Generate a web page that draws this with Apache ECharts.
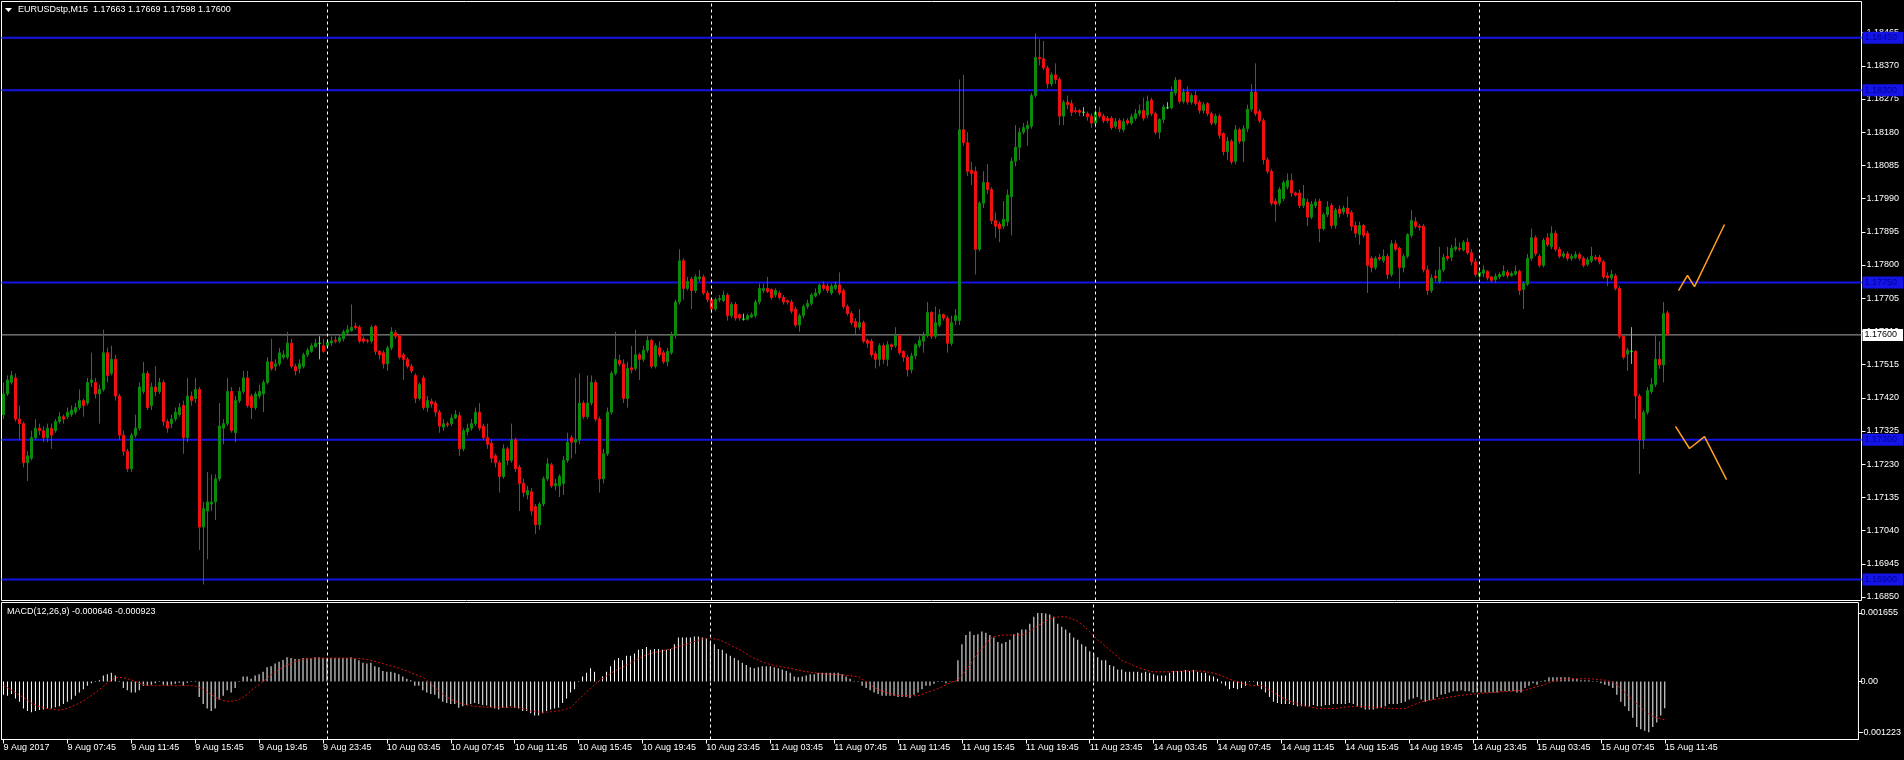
<!DOCTYPE html>
<html>
<head>
<meta charset="utf-8">
<script src="https://cdn.jsdelivr.net/npm/echarts@6/dist/echarts.min.js"></script>
<style>
html,body{margin:0;padding:0;background:#000;}
#c{width:1904px;height:760px;}
</style>
</head>
<body>
<div id="c"></div>
<script>
// ---------------- DATA ----------------
const symbolTitle = 'EURUSDstp,M15  1.17663 1.17669 1.17598 1.17600';
const macdTitle = 'MACD(12,26,9) -0.000646 -0.000923';
const firstTickLabel = '9 Aug 2017';
const sessionDays = ['9 Aug', '10 Aug', '11 Aug', '14 Aug', '15 Aug'];
const sessionFirstQuarter = [15, 0, 0, 0, 0];
const sessionLastQuarter = [95, 95, 95, 95, 47];
const futureSlots = 48;

const openP = [
1.17372,1.17431,1.17464,1.17477,1.17359,1.17346,1.17234,1.17247,1.17306,1.17333,
1.17326,1.17306,1.17333,1.17326,1.17352,1.17366,1.17366,1.17372,1.17379,1.17392,
1.17412,1.17405,1.17464,1.17464,1.17431,1.17444,1.17549,1.17490,1.17530,1.17425,
1.17313,1.17267,1.17217,1.17313,1.17333,1.17438,1.17490,1.17398,1.17451,1.17438,
1.17464,1.17352,1.17346,1.17359,1.17372,1.17398,1.17306,1.17425,1.17418,1.17444,
1.17050,1.17096,1.17116,1.17122,1.17188,1.17333,1.17346,1.17438,1.17320,1.17412,
1.17438,1.17477,1.17425,1.17392,1.17425,1.17431,1.17464,1.17523,1.17510,1.17517,
1.17536,1.17536,1.17576,1.17510,1.17504,1.17510,1.17543,1.17553,1.17566,1.17576,
1.17569,1.17569,1.17577,1.17585,1.17582,1.17589,1.17606,1.17612,1.17625,1.17622,
1.17589,1.17584,1.17582,1.17625,1.17553,1.17549,1.17517,1.17563,1.17606,1.17598,
1.17543,1.17530,1.17510,1.17484,1.17418,1.17477,1.17392,1.17410,1.17405,1.17379,
1.17336,1.17346,1.17346,1.17362,1.17369,1.17274,1.17323,1.17333,1.17346,1.17379,
1.17339,1.17306,1.17290,1.17254,1.17234,1.17195,1.17274,1.17241,1.17300,1.17221,
1.17175,1.17142,1.17151,1.17109,1.17057,1.17116,1.17188,1.17228,1.17168,1.17168,
1.17175,1.17241,1.17306,1.17293,1.17300,1.17405,1.17366,1.17405,1.17464,1.17359,
1.17188,1.17260,1.17379,1.17490,1.17527,1.17517,1.17418,1.17506,1.17504,1.17543,
1.17530,1.17556,1.17584,1.17510,1.17563,1.17549,1.17523,1.17549,1.17599,1.17694,
1.17812,1.17733,1.17760,1.17727,1.17760,1.17766,1.17720,1.17701,1.17674,1.17701,
1.17698,1.17714,1.17655,1.17687,1.17658,1.17645,1.17645,1.17651,1.17655,1.17694,
1.17727,1.17733,1.17730,1.17714,1.17720,1.17707,1.17698,1.17694,1.17674,1.17628,
1.17655,1.17681,1.17690,1.17711,1.17720,1.17743,1.17740,1.17720,1.17733,1.17743,
1.17727,1.17681,1.17661,1.17638,1.17622,1.17635,1.17584,1.17582,1.17546,1.17530,
1.17569,1.17530,1.17572,1.17569,1.17598,1.17553,1.17536,1.17500,1.17540,1.17569,
1.17582,1.17598,1.17664,1.17596,1.17628,1.17658,1.17648,1.17576,1.17641,1.17641,
1.18187,1.18150,1.18071,1.18068,1.17845,1.17977,1.18036,1.18016,1.17927,1.17917,
1.17911,1.17924,1.17996,1.18097,1.18137,1.18180,1.18190,1.18197,1.18285,1.18394,
1.18390,1.18364,1.18318,1.18344,1.18331,1.18226,1.18266,1.18262,1.18242,1.18242,
1.18237,1.18233,1.18226,1.18206,1.18237,1.18226,1.18220,1.18220,1.18197,1.18213,
1.18187,1.18213,1.18206,1.18220,1.18233,1.18242,1.18229,1.18272,1.18233,1.18180,
1.18216,1.18250,1.18250,1.18292,1.18329,1.18268,1.18295,1.18266,1.18285,1.18266,
1.18242,1.18262,1.18233,1.18206,1.18226,1.18176,1.18124,1.18154,1.18097,1.18187,
1.18154,1.18190,1.18246,1.18295,1.18239,1.18213,1.18101,1.18068,1.17983,1.17977,
1.17990,1.18023,1.18042,1.18006,1.18006,1.17970,1.17980,1.17937,1.17970,1.17983,
1.17904,1.17944,1.17970,1.17913,1.17960,1.17952,1.17963,1.17950,1.17913,1.17887,
1.17913,1.17891,1.17819,1.17793,1.17822,1.17812,1.17825,1.17773,1.17861,1.17848,
1.17793,1.17825,1.17885,1.17924,1.17911,1.17911,1.17786,1.17727,1.17768,1.17753,
1.17786,1.17825,1.17822,1.17845,1.17848,1.17843,1.17865,1.17835,1.17809,1.17768,
1.17776,1.17782,1.17766,1.17758,1.17766,1.17770,1.17779,1.17770,1.17774,1.17782,
1.17730,1.17745,1.17819,1.17878,1.17825,1.17799,1.17878,1.17852,1.17891,1.17845,
1.17825,1.17832,1.17819,1.17822,1.17830,1.17819,1.17802,1.17812,1.17822,1.17822,
1.17809,1.17769,1.17763,1.17769,1.17733,1.17596,1.17545,1.17553,1.17553,1.17425,
1.17300,1.17379,1.17438,1.17458,1.17530,1.17514,1.17663
];

const highP = [
1.17464,1.17484,1.17497,1.17490,1.17398,1.17352,1.17267,1.17326,1.17359,1.17346,
1.17339,1.17346,1.17346,1.17359,1.17379,1.17372,1.17392,1.17398,1.17405,1.17444,
1.17418,1.17477,1.17549,1.17477,1.17458,1.17615,1.17563,1.17569,1.17543,1.17431,
1.17326,1.17274,1.17320,1.17372,1.17464,1.17523,1.17497,1.17464,1.17510,1.17477,
1.17471,1.17359,1.17372,1.17392,1.17405,1.17412,1.17477,1.17438,1.17477,1.17451,
1.17122,1.17208,1.17201,1.17201,1.17405,1.17359,1.17477,1.17451,1.17425,1.17451,
1.17497,1.17497,1.17431,1.17438,1.17458,1.17471,1.17536,1.17589,1.17530,1.17563,
1.17556,1.17609,1.17589,1.17517,1.17530,1.17549,1.17563,1.17576,1.17589,1.17596,
1.17589,1.17589,1.17596,1.17596,1.17602,1.17615,1.17628,1.17687,1.17635,1.17628,
1.17596,1.17589,1.17628,1.17628,1.17556,1.17556,1.17569,1.17622,1.17615,1.17602,
1.17549,1.17536,1.17517,1.17490,1.17464,1.17484,1.17425,1.17418,1.17412,1.17385,
1.17359,1.17352,1.17372,1.17385,1.17379,1.17333,1.17346,1.17359,1.17392,1.17405,
1.17346,1.17346,1.17300,1.17260,1.17241,1.17287,1.17280,1.17346,1.17306,1.17228,
1.17188,1.17168,1.17162,1.17116,1.17122,1.17195,1.17247,1.17234,1.17188,1.17201,
1.17254,1.17320,1.17313,1.17477,1.17490,1.17412,1.17484,1.17484,1.17471,1.17366,
1.17274,1.17392,1.17497,1.17609,1.17543,1.17530,1.17523,1.17569,1.17615,1.17549,
1.17569,1.17596,1.17589,1.17576,1.17582,1.17556,1.17563,1.17609,1.17701,1.17845,
1.17819,1.17766,1.17766,1.17773,1.17786,1.17773,1.17727,1.17707,1.17707,1.17714,
1.17727,1.17720,1.17694,1.17694,1.17661,1.17661,1.17661,1.17664,1.17701,1.17747,
1.17747,1.17766,1.17733,1.17733,1.17727,1.17714,1.17701,1.17701,1.17681,1.17661,
1.17687,1.17701,1.17720,1.17733,1.17747,1.17753,1.17747,1.17747,1.17753,1.17779,
1.17733,1.17687,1.17668,1.17648,1.17674,1.17641,1.17589,1.17589,1.17553,1.17576,
1.17576,1.17582,1.17576,1.17622,1.17602,1.17556,1.17543,1.17549,1.17576,1.17596,
1.17609,1.17694,1.17668,1.17681,1.17674,1.17661,1.17655,1.17655,1.17674,1.18331,
1.18344,1.18180,1.18095,1.18082,1.17983,1.18068,1.18089,1.18023,1.17950,1.17924,
1.17983,1.18016,1.18108,1.18200,1.18193,1.18206,1.18213,1.18292,1.18463,1.18446,
1.18441,1.18371,1.18351,1.18377,1.18338,1.18272,1.18285,1.18272,1.18252,1.18246,
1.18252,1.18239,1.18233,1.18246,1.18252,1.18233,1.18226,1.18226,1.18220,1.18220,
1.18220,1.18220,1.18233,1.18246,1.18259,1.18279,1.18285,1.18279,1.18239,1.18220,
1.18259,1.18266,1.18311,1.18338,1.18331,1.18305,1.18311,1.18292,1.18298,1.18272,
1.18266,1.18266,1.18239,1.18233,1.18233,1.18180,1.18167,1.18160,1.18200,1.18193,
1.18200,1.18259,1.18318,1.18377,1.18246,1.18220,1.18108,1.18075,1.17990,1.18023,
1.18042,1.18062,1.18062,1.18010,1.18016,1.18029,1.17990,1.17983,1.17990,1.17990,
1.17950,1.17983,1.17977,1.17963,1.17970,1.17970,1.17996,1.17957,1.17924,1.17924,
1.17917,1.17898,1.17825,1.17825,1.17832,1.17845,1.17832,1.17871,1.17871,1.17852,
1.17832,1.17891,1.17957,1.17937,1.17917,1.17917,1.17799,1.17773,1.17786,1.17852,
1.17832,1.17852,1.17858,1.17878,1.17865,1.17871,1.17878,1.17845,1.17819,1.17786,
1.17799,1.17786,1.17769,1.17776,1.17779,1.17799,1.17786,1.17782,1.17799,1.17786,
1.17753,1.17832,1.17904,1.17885,1.17832,1.17877,1.17891,1.17911,1.17898,1.17852,
1.17839,1.17839,1.17832,1.17839,1.17836,1.17825,1.17822,1.17852,1.17829,1.17829,
1.17815,1.17779,1.17786,1.17776,1.17740,1.17602,1.17563,1.17622,1.17556,1.17431,
1.17385,1.17451,1.17477,1.17602,1.17582,1.17694,1.17669
];

const lowP = [
1.17359,1.17425,1.17458,1.17352,1.17300,1.17221,1.17182,1.17241,1.17300,1.17313,
1.17293,1.17293,1.17274,1.17320,1.17346,1.17346,1.17359,1.17366,1.17372,1.17385,
1.17366,1.17398,1.17451,1.17418,1.17346,1.17438,1.17464,1.17484,1.17412,1.17300,
1.17254,1.17208,1.17208,1.17306,1.17326,1.17431,1.17385,1.17385,1.17425,1.17431,
1.17339,1.17320,1.17333,1.17352,1.17366,1.17260,1.17293,1.17398,1.17405,1.16984,
1.16886,1.16958,1.17096,1.17070,1.17182,1.17287,1.17339,1.17320,1.17293,1.17405,
1.17431,1.17392,1.17359,1.17385,1.17418,1.17379,1.17458,1.17497,1.17497,1.17510,
1.17530,1.17530,1.17504,1.17484,1.17490,1.17504,1.17536,1.17549,1.17563,1.17530,
1.17549,1.17563,1.17569,1.17576,1.17576,1.17582,1.17602,1.17609,1.17615,1.17576,
1.17576,1.17576,1.17576,1.17543,1.17530,1.17504,1.17497,1.17556,1.17589,1.17530,
1.17471,1.17504,1.17490,1.17405,1.17412,1.17385,1.17379,1.17392,1.17366,1.17320,
1.17326,1.17336,1.17339,1.17359,1.17254,1.17267,1.17313,1.17326,1.17339,1.17326,
1.17300,1.17274,1.17234,1.17221,1.17149,1.17188,1.17228,1.17234,1.17208,1.17096,
1.17136,1.17129,1.17083,1.17030,1.17043,1.17109,1.17182,1.17162,1.17155,1.17136,
1.17142,1.17234,1.17247,1.17260,1.17287,1.17359,1.17359,1.17398,1.17352,1.17149,
1.17175,1.17254,1.17372,1.17484,1.17510,1.17405,1.17392,1.17490,1.17497,1.17471,
1.17523,1.17549,1.17504,1.17504,1.17536,1.17517,1.17510,1.17543,1.17589,1.17687,
1.17701,1.17727,1.17674,1.17720,1.17753,1.17714,1.17694,1.17661,1.17668,1.17694,
1.17694,1.17641,1.17648,1.17641,1.17641,1.17641,1.17641,1.17648,1.17648,1.17687,
1.17720,1.17720,1.17701,1.17707,1.17701,1.17687,1.17687,1.17661,1.17622,1.17609,
1.17648,1.17674,1.17684,1.17707,1.17714,1.17727,1.17720,1.17714,1.17727,1.17714,
1.17674,1.17655,1.17628,1.17602,1.17615,1.17576,1.17563,1.17536,1.17504,1.17510,
1.17517,1.17510,1.17556,1.17563,1.17543,1.17523,1.17481,1.17490,1.17530,1.17563,
1.17549,1.17592,1.17589,1.17589,1.17622,1.17641,1.17549,1.17569,1.17628,1.17628,
1.18141,1.18055,1.18029,1.17773,1.17839,1.17963,1.18003,1.17917,1.17878,1.17865,
1.17904,1.17911,1.17885,1.18082,1.18101,1.18174,1.18141,1.18190,1.18279,1.18371,
1.18358,1.18305,1.18311,1.18318,1.18200,1.18200,1.18246,1.18226,1.18233,1.18226,
1.18226,1.18213,1.18193,1.18193,1.18220,1.18206,1.18206,1.18187,1.18190,1.18180,
1.18180,1.18200,1.18200,1.18213,1.18226,1.18213,1.18220,1.18226,1.18174,1.18161,
1.18206,1.18246,1.18246,1.18285,1.18262,1.18262,1.18259,1.18259,1.18256,1.18233,
1.18233,1.18226,1.18200,1.18200,1.18161,1.18114,1.18101,1.18088,1.18088,1.18147,
1.18095,1.18180,1.18239,1.18226,1.18206,1.18088,1.18062,1.17970,1.17924,1.17970,
1.17983,1.18016,1.17996,1.17996,1.17963,1.17963,1.17911,1.17931,1.17963,1.17865,
1.17898,1.17937,1.17904,1.17904,1.17937,1.17944,1.17937,1.17898,1.17878,1.17858,
1.17878,1.17720,1.17779,1.17786,1.17812,1.17806,1.17760,1.17766,1.17839,1.17733,
1.17779,1.17819,1.17878,1.17904,1.17898,1.17779,1.17714,1.17720,1.17753,1.17747,
1.17779,1.17812,1.17812,1.17839,1.17839,1.17839,1.17829,1.17799,1.17766,1.17760,
1.17766,1.17756,1.17750,1.17750,1.17760,1.17766,1.17763,1.17766,1.17770,1.17714,
1.17674,1.17740,1.17812,1.17825,1.17793,1.17793,1.17852,1.17845,1.17839,1.17819,
1.17819,1.17812,1.17812,1.17817,1.17812,1.17793,1.17796,1.17806,1.17812,1.17802,
1.17760,1.17740,1.17756,1.17727,1.17589,1.17530,1.17497,1.17517,1.17359,1.17202,
1.17274,1.17372,1.17431,1.17451,1.17503,1.17464,1.17598
];

const closeP = [
1.17431,1.17471,1.17484,1.17359,1.17346,1.17234,1.17254,1.17306,1.17333,1.17326,
1.17306,1.17333,1.17313,1.17352,1.17366,1.17359,1.17379,1.17385,1.17392,1.17412,
1.17398,1.17464,1.17471,1.17431,1.17444,1.17549,1.17484,1.17530,1.17425,1.17313,
1.17267,1.17217,1.17313,1.17333,1.17451,1.17490,1.17392,1.17451,1.17438,1.17464,
1.17352,1.17333,1.17359,1.17379,1.17392,1.17306,1.17425,1.17412,1.17444,1.17050,
1.17103,1.17122,1.17122,1.17188,1.17339,1.17346,1.17438,1.17326,1.17412,1.17438,
1.17477,1.17398,1.17392,1.17431,1.17438,1.17464,1.17523,1.17504,1.17517,1.17549,
1.17543,1.17576,1.17510,1.17497,1.17517,1.17543,1.17556,1.17569,1.17576,1.17576,
1.17553,1.17579,1.17583,1.17582,1.17592,1.17609,1.17615,1.17622,1.17620,1.17582,
1.17582,1.17582,1.17622,1.17553,1.17543,1.17517,1.17563,1.17609,1.17596,1.17536,
1.17530,1.17510,1.17497,1.17418,1.17458,1.17392,1.17412,1.17402,1.17379,1.17339,
1.17346,1.17343,1.17362,1.17372,1.17274,1.17326,1.17333,1.17346,1.17379,1.17333,
1.17306,1.17287,1.17247,1.17234,1.17195,1.17274,1.17241,1.17300,1.17217,1.17175,
1.17149,1.17155,1.17096,1.17057,1.17116,1.17188,1.17231,1.17168,1.17175,1.17195,
1.17241,1.17293,1.17293,1.17300,1.17405,1.17366,1.17405,1.17464,1.17359,1.17188,
1.17260,1.17379,1.17490,1.17530,1.17517,1.17418,1.17504,1.17500,1.17543,1.17530,
1.17556,1.17584,1.17510,1.17569,1.17543,1.17523,1.17553,1.17599,1.17694,1.17812,
1.17733,1.17753,1.17727,1.17766,1.17766,1.17720,1.17701,1.17674,1.17701,1.17704,
1.17714,1.17655,1.17687,1.17648,1.17648,1.17645,1.17655,1.17658,1.17694,1.17733,
1.17733,1.17724,1.17707,1.17727,1.17707,1.17694,1.17694,1.17668,1.17628,1.17655,
1.17681,1.17690,1.17714,1.17720,1.17743,1.17733,1.17727,1.17740,1.17743,1.17720,
1.17681,1.17661,1.17635,1.17622,1.17635,1.17582,1.17576,1.17543,1.17530,1.17569,
1.17530,1.17572,1.17566,1.17598,1.17549,1.17536,1.17500,1.17540,1.17572,1.17585,
1.17598,1.17664,1.17596,1.17635,1.17658,1.17648,1.17576,1.17635,1.17655,1.18187,
1.18150,1.18068,1.18062,1.17845,1.17977,1.18036,1.18016,1.17927,1.17911,1.17904,
1.17931,1.18000,1.18097,1.18137,1.18180,1.18193,1.18200,1.18285,1.18394,1.18390,
1.18364,1.18318,1.18344,1.18331,1.18226,1.18266,1.18259,1.18237,1.18239,1.18237,
1.18237,1.18224,1.18206,1.18237,1.18226,1.18213,1.18213,1.18193,1.18210,1.18190,
1.18210,1.18206,1.18224,1.18233,1.18242,1.18220,1.18268,1.18233,1.18180,1.18216,
1.18252,1.18250,1.18295,1.18329,1.18268,1.18295,1.18266,1.18285,1.18262,1.18242,
1.18259,1.18233,1.18206,1.18226,1.18171,1.18124,1.18154,1.18095,1.18187,1.18154,
1.18190,1.18246,1.18295,1.18233,1.18213,1.18101,1.18068,1.17977,1.17974,1.18016,
1.18036,1.18042,1.18006,1.18000,1.17970,1.17990,1.17937,1.17974,1.17980,1.17904,
1.17944,1.17966,1.17913,1.17957,1.17947,1.17963,1.17947,1.17911,1.17891,1.17913,
1.17885,1.17799,1.17793,1.17819,1.17817,1.17825,1.17773,1.17861,1.17845,1.17793,
1.17825,1.17887,1.17927,1.17911,1.17908,1.17786,1.17727,1.17763,1.17763,1.17786,
1.17822,1.17819,1.17848,1.17852,1.17845,1.17865,1.17835,1.17809,1.17773,1.17779,
1.17786,1.17763,1.17756,1.17768,1.17773,1.17782,1.17770,1.17776,1.17782,1.17727,
1.17747,1.17819,1.17878,1.17832,1.17799,1.17871,1.17858,1.17891,1.17845,1.17825,
1.17832,1.17819,1.17825,1.17830,1.17819,1.17799,1.17815,1.17825,1.17817,1.17809,
1.17766,1.17763,1.17773,1.17733,1.17596,1.17536,1.17556,1.17553,1.17425,1.17300,
1.17379,1.17441,1.17458,1.17530,1.17514,1.17661,1.17600
];

const macdMain = [
-322e-6,-344e-6,-299e-6,-410e-6,-488e-6,-654e-6,-710e-6,-743e-6,-710e-6,-688e-6,
-676e-6,-654e-6,-654e-6,-621e-6,-599e-6,-543e-6,-488e-6,-433e-6,-344e-6,-266e-6,
-189e-6,-100e-6,-44e-6,-11e-6,33e-6,144e-6,177e-6,211e-6,144e-6,-11e-6,
-155e-6,-211e-6,-266e-6,-266e-6,-211e-6,-100e-6,-100e-6,-78e-6,-44e-6,11e-6,
-78e-6,-100e-6,-78e-6,-55e-6,-33e-6,-100e-6,-33e-6,-11e-6,11e-6,-377e-6,
-543e-6,-654e-6,-710e-6,-654e-6,-433e-6,-344e-6,-211e-6,-266e-6,-155e-6,-11e-6,
122e-6,122e-6,67e-6,144e-6,177e-6,233e-6,344e-6,366e-6,433e-6,477e-6,
521e-6,588e-6,566e-6,543e-6,543e-6,566e-6,566e-6,566e-6,588e-6,588e-6,
566e-6,566e-6,566e-6,566e-6,566e-6,566e-6,566e-6,588e-6,543e-6,510e-6,
455e-6,433e-6,455e-6,366e-6,344e-6,255e-6,233e-6,233e-6,211e-6,177e-6,
122e-6,67e-6,33e-6,-100e-6,-100e-6,-211e-6,-266e-6,-299e-6,-322e-6,-410e-6,
-488e-6,-521e-6,-543e-6,-543e-6,-632e-6,-599e-6,-566e-6,-543e-6,-521e-6,-543e-6,
-566e-6,-577e-6,-621e-6,-654e-6,-676e-6,-632e-6,-632e-6,-599e-6,-632e-6,-654e-6,
-710e-6,-710e-6,-765e-6,-821e-6,-821e-6,-765e-6,-710e-6,-676e-6,-654e-6,-632e-6,
-521e-6,-410e-6,-266e-6,-189e-6,11e-6,122e-6,211e-6,322e-6,233e-6,11e-6,
122e-6,233e-6,366e-6,510e-6,566e-6,510e-6,621e-6,621e-6,676e-6,765e-6,
787e-6,832e-6,765e-6,787e-6,787e-6,765e-6,765e-6,787e-6,898e-6,1065e-6,
1065e-6,1065e-6,1065e-6,1087e-6,1087e-6,1065e-6,1031e-6,954e-6,898e-6,787e-6,
765e-6,676e-6,621e-6,566e-6,510e-6,455e-6,399e-6,344e-6,322e-6,344e-6,
366e-6,366e-6,366e-6,344e-6,322e-6,288e-6,255e-6,211e-6,122e-6,100e-6,
122e-6,144e-6,177e-6,177e-6,211e-6,211e-6,211e-6,211e-6,211e-6,211e-6,
177e-6,122e-6,67e-6,11e-6,-11e-6,-100e-6,-155e-6,-211e-6,-266e-6,-299e-6,
-344e-6,-344e-6,-344e-6,-344e-6,-377e-6,-377e-6,-377e-6,-399e-6,-322e-6,-266e-6,
-189e-6,-100e-6,-100e-6,-55e-6,-11e-6,-11e-6,-44e-6,-11e-6,-11e-6,510e-6,
898e-6,1120e-6,1209e-6,1120e-6,1142e-6,1209e-6,1176e-6,1120e-6,1065e-6,954e-6,
920e-6,954e-6,1009e-6,1142e-6,1176e-6,1253e-6,1253e-6,1397e-6,1564e-6,1652e-6,
1655e-6,1641e-6,1619e-6,1564e-6,1397e-6,1320e-6,1253e-6,1176e-6,1065e-6,1009e-6,
898e-6,843e-6,732e-6,676e-6,588e-6,510e-6,510e-6,399e-6,366e-6,288e-6,
288e-6,233e-6,233e-6,233e-6,233e-6,211e-6,233e-6,211e-6,177e-6,144e-6,
144e-6,144e-6,211e-6,255e-6,255e-6,255e-6,277e-6,255e-6,277e-6,233e-6,
211e-6,211e-6,144e-6,122e-6,67e-6,-44e-6,-100e-6,-189e-6,-155e-6,-189e-6,
-155e-6,-100e-6,-11e-6,-11e-6,-100e-6,-189e-6,-266e-6,-377e-6,-488e-6,-521e-6,
-543e-6,-543e-6,-543e-6,-566e-6,-599e-6,-599e-6,-599e-6,-599e-6,-566e-6,-599e-6,
-599e-6,-566e-6,-566e-6,-543e-6,-543e-6,-543e-6,-543e-6,-521e-6,-543e-6,-599e-6,
-632e-6,-676e-6,-676e-6,-676e-6,-654e-6,-632e-6,-599e-6,-543e-6,-543e-6,-543e-6,
-521e-6,-488e-6,-433e-6,-410e-6,-377e-6,-433e-6,-488e-6,-455e-6,-433e-6,-377e-6,
-322e-6,-299e-6,-266e-6,-233e-6,-233e-6,-211e-6,-233e-6,-233e-6,-266e-6,-266e-6,
-266e-6,-266e-6,-266e-6,-266e-6,-266e-6,-233e-6,-233e-6,-233e-6,-233e-6,-266e-6,
-266e-6,-155e-6,-100e-6,-44e-6,-78e-6,-11e-6,33e-6,100e-6,100e-6,100e-6,
100e-6,100e-6,100e-6,67e-6,67e-6,33e-6,33e-6,33e-6,11e-6,11e-6,
-44e-6,-78e-6,-100e-6,-155e-6,-322e-6,-488e-6,-599e-6,-710e-6,-876e-6,-1098e-6,
-1153e-6,-1187e-6,-1223e-6,-1098e-6,-987e-6,-821e-6,-646e-6
];

const macdSignal = [
-100e-6,-150e-6,-210e-6,-266e-6,-330e-6,-390e-6,-450e-6,-520e-6,-570e-6,-605e-6,
-630e-6,-650e-6,-665e-6,-680e-6,-688e-6,-675e-6,-645e-6,-605e-6,-565e-6,-520e-6,
-465e-6,-400e-6,-340e-6,-270e-6,-190e-6,-120e-6,-40e-6,30e-6,90e-6,100e-6,
90e-6,67e-6,40e-6,5e-6,-44e-6,-70e-6,-95e-6,-100e-6,-100e-6,-100e-6,
-100e-6,-100e-6,-100e-6,-100e-6,-100e-6,-100e-6,-100e-6,-100e-6,-110e-6,-140e-6,
-189e-6,-250e-6,-315e-6,-377e-6,-420e-6,-455e-6,-480e-6,-480e-6,-460e-6,-433e-6,
-380e-6,-310e-6,-220e-6,-140e-6,-78e-6,0,80e-6,160e-6,230e-6,290e-6,
350e-6,399e-6,440e-6,480e-6,510e-6,530e-6,545e-6,555e-6,566e-6,566e-6,
566e-6,566e-6,566e-6,566e-6,566e-6,566e-6,566e-6,566e-6,560e-6,555e-6,
545e-6,532e-6,510e-6,485e-6,460e-6,433e-6,405e-6,375e-6,350e-6,322e-6,
285e-6,250e-6,215e-6,177e-6,140e-6,100e-6,30e-6,-40e-6,-155e-6,-230e-6,
-300e-6,-377e-6,-420e-6,-470e-6,-510e-6,-540e-6,-565e-6,-585e-6,-599e-6,-605e-6,
-612e-6,-621e-6,-621e-6,-621e-6,-621e-6,-621e-6,-621e-6,-621e-6,-621e-6,-621e-6,
-650e-6,-680e-6,-710e-6,-725e-6,-735e-6,-743e-6,-740e-6,-730e-6,-720e-6,-710e-6,
-690e-6,-665e-6,-632e-6,-540e-6,-433e-6,-350e-6,-250e-6,-170e-6,-80e-6,11e-6,
70e-6,130e-6,190e-6,250e-6,300e-6,350e-6,399e-6,450e-6,500e-6,560e-6,
600e-6,640e-6,680e-6,699e-6,720e-6,745e-6,765e-6,790e-6,815e-6,843e-6,
875e-6,905e-6,935e-6,965e-6,995e-6,1020e-6,1040e-6,1042e-6,1030e-6,1010e-6,
975e-6,930e-6,880e-6,830e-6,787e-6,730e-6,670e-6,610e-6,560e-6,520e-6,
470e-6,440e-6,410e-6,385e-6,365e-6,350e-6,335e-6,315e-6,295e-6,275e-6,
255e-6,240e-6,225e-6,210e-6,200e-6,190e-6,180e-6,175e-6,170e-6,165e-6,
160e-6,150e-6,140e-6,130e-6,120e-6,60e-6,0,-80e-6,-140e-6,-190e-6,
-230e-6,-266e-6,-295e-6,-320e-6,-335e-6,-344e-6,-344e-6,-344e-6,-344e-6,-344e-6,
-310e-6,-270e-6,-240e-6,-211e-6,-170e-6,-130e-6,-78e-6,-30e-6,0,33e-6,
150e-6,270e-6,400e-6,540e-6,680e-6,787e-6,900e-6,1030e-6,1080e-6,1100e-6,
1120e-6,1120e-6,1120e-6,1120e-6,1120e-6,1120e-6,1160e-6,1220e-6,1280e-6,1342e-6,
1400e-6,1460e-6,1510e-6,1542e-6,1555e-6,1564e-6,1560e-6,1530e-6,1490e-6,1453e-6,
1380e-6,1300e-6,1200e-6,1100e-6,1000e-6,930e-6,843e-6,760e-6,680e-6,600e-6,
510e-6,470e-6,430e-6,380e-6,344e-6,310e-6,280e-6,250e-6,233e-6,233e-6,
233e-6,233e-6,233e-6,240e-6,245e-6,250e-6,255e-6,255e-6,255e-6,255e-6,
255e-6,240e-6,220e-6,200e-6,177e-6,140e-6,100e-6,60e-6,20e-6,-11e-6,
-40e-6,-60e-6,-80e-6,-100e-6,-100e-6,-100e-6,-150e-6,-210e-6,-266e-6,-320e-6,
-380e-6,-433e-6,-470e-6,-510e-6,-540e-6,-566e-6,-590e-6,-610e-6,-630e-6,-654e-6,
-654e-6,-654e-6,-654e-6,-654e-6,-645e-6,-630e-6,-620e-6,-610e-6,-605e-6,-599e-6,
-605e-6,-610e-6,-615e-6,-620e-6,-628e-6,-632e-6,-640e-6,-645e-6,-650e-6,-654e-6,
-654e-6,-654e-6,-610e-6,-570e-6,-530e-6,-488e-6,-470e-6,-455e-6,-440e-6,-425e-6,
-410e-6,-395e-6,-380e-6,-365e-6,-350e-6,-335e-6,-322e-6,-315e-6,-305e-6,-295e-6,
-285e-6,-278e-6,-272e-6,-266e-6,-258e-6,-250e-6,-243e-6,-236e-6,-228e-6,-220e-6,
-215e-6,-211e-6,-180e-6,-150e-6,-125e-6,-100e-6,-70e-6,-35e-6,0,33e-6,
45e-6,55e-6,62e-6,67e-6,67e-6,67e-6,67e-6,67e-6,60e-6,50e-6,
40e-6,33e-6,10e-6,-20e-6,-80e-6,-170e-6,-266e-6,-360e-6,-450e-6,-540e-6,
-630e-6,-710e-6,-780e-6,-840e-6,-876e-6,-900e-6,-923e-6
];

const levelLines = [1.18450, 1.18300, 1.17750, 1.17300, 1.16900];
const bidPrice = 1.17600;
const priceTicks = [1.18465, 1.18370, 1.18275, 1.18180, 1.18085, 1.17990, 1.17895, 1.17800, 1.17705,
  1.17610, 1.17515, 1.17420, 1.17325, 1.17230, 1.17135, 1.17040, 1.16945, 1.16850];
const macdTicks = [0.001655, 0, -0.001223];
const daySeparators = [81, 177, 273, 369];
// hand-drawn arrows (bar index, price)
const upperArrow = [[418.75, 1.17727], [421, 1.17770], [422.75, 1.17738], [430.25, 1.17916]];
const lowerArrow = [[418, 1.17338], [421.5, 1.17275], [425.25, 1.17309], [430.75, 1.17186]];

// ---------------- BUILD ----------------
function pad(n) { return (n < 10 ? '0' : '') + n; }
const categories = [];
sessionDays.forEach(function (d, k) {
  for (let q = sessionFirstQuarter[k]; q <= sessionLastQuarter[k]; q++) {
    categories.push(d + ' ' + pad(Math.floor(q / 4)) + ':' + pad((q % 4) * 15));
  }
});
const N = categories.length;
for (let k = 0; k < futureSlots; k++) categories.push('');
const xFirst = -0.5, xLast = categories.length - 0.5;

const candles = closeP.map(function (c, i) { return [openP[i], c, lowP[i], highP[i]]; });
function tickAt(index) { return index % 16 === 0 && index < N; }

const BLUE = '#1414e6';
const FONT = 'Liberation Sans';

function levelSeries(v, lineColor, lineWidth, boxColor, textColor, z) {
  return {
    type: 'line', xAxisIndex: 2, yAxisIndex: 0, symbol: 'none', silent: true, clip: false, z: z,
    data: [[xFirst, v], [xLast, v]],
    lineStyle: { color: lineColor, width: lineWidth },
    endLabel: { show: true, distance: 1, formatter: function () { return v.toFixed(5); },
      backgroundColor: boxColor, color: textColor, padding: [2, 6, 1, 2], fontSize: 9, fontFamily: FONT }
  };
}
const sepMarks = daySeparators.map(function (i) {
  return { xAxis: i, lineStyle: { color: '#ffffff', width: 1, type: [3, 3] }, label: { show: false } };
});

const chart = echarts.init(document.getElementById('c'), null, { renderer: 'canvas', width: 1904, height: 760 });

const series = [];
levelLines.forEach(function (v) { series.push(levelSeries(v, BLUE, 2, BLUE, '#00009a', 1)); });
series.push(levelSeries(bidPrice, '#a8a8a8', 1, '#ffffff', '#000000', 1));
series.push(
  {
    type: 'candlestick', xAxisIndex: 0, yAxisIndex: 0, data: candles, barWidth: 2, z: 3,
    itemStyle: { color: '#0c8a0c', color0: '#f01010', borderColor: '#0c8a0c', borderColor0: '#f01010',
      borderColorDoji: '#30ff30', borderWidth: 1 },
    markLine: { silent: true, symbol: ['none', 'none'], animation: false, data: sepMarks }
  },
  {
    type: 'bar', xAxisIndex: 1, yAxisIndex: 1, data: macdMain, barWidth: 1,
    itemStyle: { color: '#ffffff' },
    markLine: { silent: true, symbol: ['none', 'none'], animation: false, data: sepMarks }
  },
  {
    type: 'line', xAxisIndex: 1, yAxisIndex: 1, data: macdSignal, symbol: 'none',
    lineStyle: { color: '#e01010', width: 1, type: [2, 2] }
  },
  {
    type: 'line', xAxisIndex: 2, yAxisIndex: 0, data: upperArrow, symbol: 'none',
    lineStyle: { color: '#ffa020', width: 1.5 }
  },
  {
    type: 'line', xAxisIndex: 2, yAxisIndex: 0, data: lowerArrow, symbol: 'none',
    lineStyle: { color: '#ffa020', width: 1.5 }
  }
);

const option = {
  backgroundColor: '#000000',
  animation: false,
  textStyle: { fontFamily: FONT },
  grid: [
    { left: 1.5, top: 1.5, width: 1860, height: 599, show: true, borderColor: '#ffffff', borderWidth: 1, backgroundColor: 'transparent' },
    { left: 1.5, top: 602.5, width: 1860, height: 137, show: true, borderColor: '#ffffff', borderWidth: 1, backgroundColor: 'transparent' }
  ],
  xAxis: [
    { type: 'category', gridIndex: 0, data: categories, boundaryGap: true, position: 'bottom',
      axisLine: { show: false, onZero: false }, axisTick: { show: false }, axisLabel: { show: false }, splitLine: { show: false } },
    { type: 'category', gridIndex: 1, data: categories, boundaryGap: true, position: 'bottom',
      axisLine: { show: true, onZero: false, lineStyle: { color: '#ffffff', width: 1 } },
      axisTick: { show: true, alignWithLabel: true, interval: tickAt, length: 4, lineStyle: { color: '#ffffff' } },
      axisLabel: { show: true, interval: tickAt, align: 'left', margin: 4, color: '#ffffff', fontSize: 9, fontFamily: FONT,
        formatter: function (v, i) { return i === 0 ? firstTickLabel : v; } },
      splitLine: { show: false } },
    { type: 'value', gridIndex: 0, position: 'top', min: xFirst, max: xLast, show: false,
      axisLine: { onZero: false } }
  ],
  yAxis: [
    { type: 'value', gridIndex: 0, position: 'right', min: 1.16840, max: 1.18554, scale: true,
      splitLine: { show: false }, axisLine: { show: false, onZero: false },
      axisTick: { show: true, customValues: priceTicks, length: 4, lineStyle: { color: '#ffffff' } },
      axisLabel: { show: true, customValues: priceTicks, margin: 5, color: '#ffffff', fontSize: 9, fontFamily: FONT,
        formatter: function (v) { return Number(v).toFixed(5); } } },
    { type: 'value', gridIndex: 1, position: 'right', min: -0.0014, max: 0.001907, scale: true,
      splitLine: { show: false }, axisLine: { show: false, onZero: false },
      axisTick: { show: true, customValues: macdTicks, length: 4, lineStyle: { color: '#ffffff' } },
      axisLabel: { show: true, customValues: macdTicks, margin: 2, color: '#ffffff', fontSize: 9, fontFamily: FONT,
        formatter: function (v) { return Number(v) === 0 ? '0.00' : Number(v).toFixed(6); } } }
  ],
  series: series,
  graphic: [
    { type: 'polygon', shape: { points: [[5, 8], [12, 8], [8.5, 12]] }, style: { fill: '#ffffff' } },
    { type: 'text', left: 18, top: 5, style: { text: symbolTitle, fill: '#ffffff', font: '9px "Liberation Sans"' } },
    { type: 'text', left: 7, top: 607, style: { text: macdTitle, fill: '#ffffff', font: '9px "Liberation Sans"' } }
  ]
};
chart.setOption(option);
</script>
</body>
</html>
